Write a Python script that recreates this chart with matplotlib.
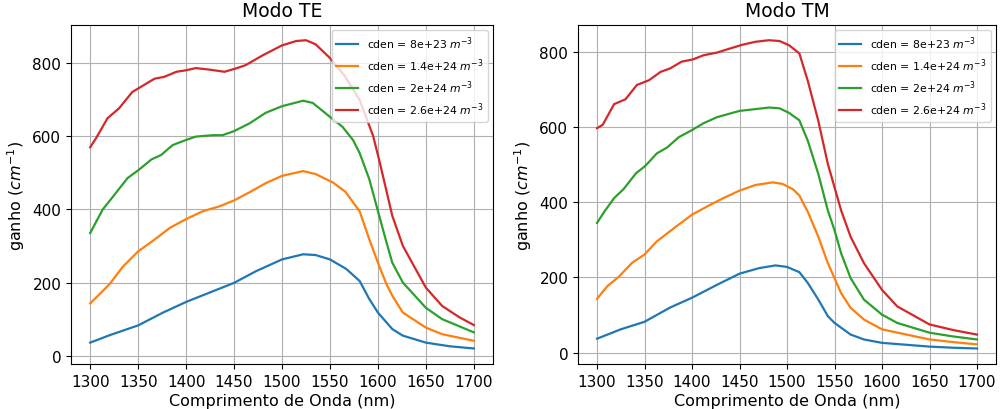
import matplotlib.pyplot as plt

# --- data (wavelength in nm, gain in cm^-1) ---
LABELS = [r"cden = 8e+23 $m^{-3}$", r"cden = 1.4e+24 $m^{-3}$",
          r"cden = 2e+24 $m^{-3}$", r"cden = 2.6e+24 $m^{-3}$"]

# Modo TE
te_x_blue = [1300, 1320, 1350, 1376, 1400, 1424, 1450, 1473, 1500, 1522, 1535, 1550, 1567,
             1581, 1591, 1600, 1615, 1626, 1650, 1675, 1700]
te_y_blue = [36, 56, 83, 118, 147, 172, 199, 231, 263, 277, 275, 263, 237,
             204, 155, 118, 73, 55, 36, 26, 20]

te_x_orange = [1300, 1320, 1334, 1350, 1365, 1383, 1400, 1417, 1435, 1450, 1466, 1483, 1500,
               1522, 1535, 1553, 1566, 1581, 1591, 1600, 1609, 1615, 1626, 1650, 1667, 1700]
te_y_orange = [143, 195, 243, 285, 313, 349, 373, 394, 408, 424, 446, 471, 491,
               504, 496, 473, 448, 394, 318, 254, 195, 164, 118, 77, 59, 41]

te_x_green = [1300, 1313, 1324, 1339, 1350, 1364, 1374, 1386, 1400, 1410, 1428, 1438, 1450,
              1466, 1483, 1500, 1522, 1532, 1550, 1563, 1574, 1581, 1591, 1600, 1609,
              1615, 1626, 1650, 1667, 1700]
te_y_green = [335, 399, 435, 485, 506, 536, 548, 575, 589, 598, 602, 602, 613,
              634, 663, 681, 696, 690, 652, 625, 589, 553, 482, 395, 309,
              254, 200, 131, 100, 64]

te_x_red = [1300, 1306, 1318, 1330, 1344, 1353, 1367, 1377, 1390, 1400, 1410, 1424, 1440,
            1452, 1462, 1480, 1500, 1515, 1525, 1535, 1549, 1565, 1581, 1595, 1602,
            1615, 1626, 1650, 1667, 1685, 1700]
te_y_red = [569, 593, 648, 675, 720, 734, 756, 761, 775, 779, 785, 781, 775,
            784, 793, 820, 847, 859, 861, 850, 815, 765, 698, 600, 527,
            382, 300, 186, 136, 105, 84]

# Modo TM
tm_x_blue = [1300, 1325, 1350, 1377, 1400, 1426, 1450, 1471, 1488, 1500, 1513, 1522, 1533,
             1543, 1550, 1567, 1581, 1600, 1650, 1675, 1700]
tm_y_blue = [37, 62, 82, 120, 146, 180, 210, 225, 232, 228, 214, 185, 141,
             97, 79, 48, 35, 26, 16, 13, 11]

tm_x_orange = [1300, 1311, 1323, 1337, 1350, 1363, 1381, 1400, 1419, 1433, 1450, 1467, 1485,
               1495, 1506, 1513, 1522, 1533, 1543, 1550, 1557, 1567, 1581, 1600, 1650,
               1675, 1700]
tm_y_orange = [143, 177, 202, 239, 261, 296, 331, 367, 393, 411, 431, 446, 453,
               449, 435, 418, 374, 308, 238, 198, 158, 119, 88, 62, 35,
               28, 22]

tm_x_green = [1300, 1308, 1318, 1328, 1341, 1351, 1363, 1374, 1386, 1400, 1412, 1426, 1440,
              1450, 1464, 1481, 1492, 1502, 1513, 1522, 1533, 1543, 1550, 1557, 1567,
              1581, 1600, 1616, 1650, 1675, 1700]
tm_y_green = [345, 376, 411, 435, 477, 497, 530, 546, 573, 592, 610, 626, 636,
              643, 647, 652, 650, 638, 618, 563, 475, 378, 326, 264, 198,
              141, 101, 79, 53, 43, 35]

tm_x_red = [1300, 1306, 1318, 1330, 1342, 1355, 1367, 1377, 1389, 1401, 1412, 1426, 1440,
            1453, 1467, 1481, 1492, 1502, 1513, 1522, 1533, 1543, 1550, 1557, 1567,
            1581, 1600, 1616, 1650, 1675, 1700]
tm_y_red = [597, 606, 661, 674, 712, 725, 747, 756, 774, 780, 791, 798, 809,
            819, 827, 831, 829, 818, 796, 722, 616, 502, 440, 378, 308,
            238, 167, 123, 75, 60, 48]

COLORS = ["tab:blue", "tab:orange", "tab:green", "tab:red"]

panels = [
    ("Modo TE", [(te_x_blue, te_y_blue), (te_x_orange, te_y_orange),
                 (te_x_green, te_y_green), (te_x_red, te_y_red)]),
    ("Modo TM", [(tm_x_blue, tm_y_blue), (tm_x_orange, tm_y_orange),
                 (tm_x_green, tm_y_green), (tm_x_red, tm_y_red)]),
]

fig = plt.figure(figsize=(10, 4.1), dpi=100)
ax_rects = [[0.071, 0.110, 0.422, 0.827], [0.578, 0.110, 0.418, 0.827]]

for rect, (title, series) in zip(ax_rects, panels):
    ax = fig.add_axes(rect)
    for (xs, ys), color, label in zip(series, COLORS, LABELS):
        ax.plot(xs, ys, color=color, linewidth=1.6, label=label)
    ax.set_title(title, fontsize=13.5)
    ax.set_xlabel("Comprimento de Onda (nm)", fontsize=11.5, labelpad=3)
    ax.set_ylabel(r"ganho ($cm^{-1}$)", fontsize=11.5)
    ax.tick_params(labelsize=11)
    ax.set_xticks(range(1300, 1701, 50))
    ax.grid(True)
    ax.legend(loc="upper right", fontsize=7.8)

plt.savefig("out.png")
